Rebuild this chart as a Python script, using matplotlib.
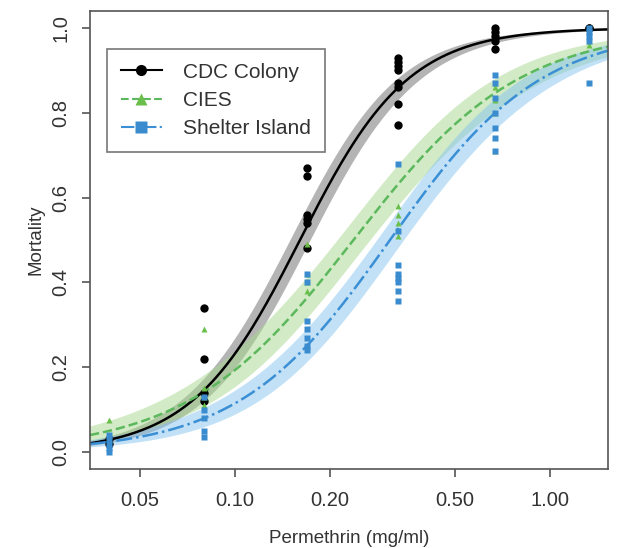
import numpy as np
import matplotlib
matplotlib.use('Agg')
import matplotlib.pyplot as plt
from matplotlib.ticker import FixedLocator, NullLocator

plt.rcParams['font.family'] = ['Liberation Sans', 'DejaVu Sans']

# dose groups (mg/ml)
doses = [0.04, 0.08, 0.17, 0.33, 0.67, 1.33]

# observed mortality per dose group
cdc_obs = [[0.03, 0.02],
           [0.34, 0.22, 0.14, 0.12],
           [0.67, 0.65, 0.56, 0.55, 0.54, 0.48],
           [0.93, 0.92, 0.91, 0.90, 0.87, 0.86, 0.82, 0.77],
           [1.00, 0.99, 0.98, 0.97, 0.95],
           [1.00, 1.00]]
cies_obs = [[0.075, 0.04, 0.03],
            [0.29, 0.15, 0.13, 0.11],
            [0.49, 0.42, 0.40, 0.38],
            [0.58, 0.56, 0.54, 0.51],
            [0.87, 0.86, 0.83, 0.80, 0.71],
            [0.97, 0.96]]
shelter_obs = [[0.04, 0.03, 0.02, 0.01, 0.0],
               [0.13, 0.10, 0.08, 0.05, 0.035],
               [0.42, 0.40, 0.31, 0.29, 0.27, 0.25, 0.24],
               [0.68, 0.52, 0.44, 0.42, 0.41, 0.40, 0.38, 0.355],
               [0.89, 0.87, 0.835, 0.80, 0.765, 0.74, 0.71],
               [1.00, 0.99, 0.98, 0.97, 0.87]]

# fitted logistic parameters: LD50, slope (per log10 dose), se terms
strains = ['CDC Colony', 'CIES', 'Shelter Island']
ld50 = [0.161, 0.238, 0.311]
slope = [5.8, 3.8, 4.15]
se0 = [0.095, 0.10, 0.09]
se1 = [0.17, 0.25, 0.22]

line_col = ['black', '#5cb85c', '#3b8fd4']
band_col = ['#8c8c8c', '#a6d88e', '#86c5ee']
band_alpha = [0.65, 0.5, 0.5]
point_col = ['black', '#6abf4b', '#3a8ccf']
markers = ['o', '^', 's']
styles = ['-', '--', '-.']
obs = [cdc_obs, cies_obs, shelter_obs]

fig = plt.figure(figsize=(6.17, 5.48), dpi=100)
ax = fig.add_axes([0.1459, 0.1442, 0.8395, 0.8358])

xmin, xmax = 0.0347, 1.53
grid = np.logspace(np.log10(xmin), np.log10(xmax), 300)
lg = np.log10(grid)

for i in range(3):
    eta = slope[i] * (lg - np.log10(ld50[i]))
    se = np.sqrt(se0[i] ** 2 + (se1[i] * (lg - np.log10(ld50[i]))) ** 2)
    lo = 1 / (1 + np.exp(-(eta - 1.96 * se)))
    hi = 1 / (1 + np.exp(-(eta + 1.96 * se)))
    ax.fill_between(grid, lo, hi, color=band_col[i], alpha=band_alpha[i], lw=0)

for i in range(3):
    eta = slope[i] * (lg - np.log10(ld50[i]))
    ax.plot(grid, 1 / (1 + np.exp(-eta)), color=line_col[i], ls=styles[i], lw=1.8)

handles = []
for i in range(3):
    xs, ys = [], []
    for d, vals in zip(doses, obs[i]):
        xs += [d] * len(vals)
        ys += vals
    ms = 6 if i == 0 else 5
    ax.plot(xs, ys, ls='none', marker=markers[i], color=point_col[i], ms=ms, mec='none')
    h, = ax.plot([], [], color=line_col[i], ls=styles[i], marker=markers[i],
                 mfc=point_col[i], mec='none', ms=8, lw=1.5)
    handles.append(h)

ax.set_xscale('log')
ax.set_xlim(xmin, xmax)
ax.set_ylim(-0.04, 1.04)
ax.xaxis.set_major_locator(FixedLocator([0.05, 0.1, 0.2, 0.5, 1.0]))
ax.xaxis.set_minor_locator(NullLocator())
ax.set_xticklabels(['0.05', '0.10', '0.20', '0.50', '1.00'])
ax.set_yticks([0.0, 0.2, 0.4, 0.6, 0.8, 1.0])
ax.set_yticklabels(['0.0', '0.2', '0.4', '0.6', '0.8', '1.0'], rotation=90, va='center')

for s in ax.spines.values():
    s.set_color('#555555')
    s.set_linewidth(1.2)
ax.tick_params(length=6, width=1.2, color='#555555', labelsize=14.5, labelcolor='#333333')
ax.tick_params(axis='x', pad=10)
ax.tick_params(axis='y', pad=8)

ax.set_xlabel('Permethrin (mg/ml)', fontsize=13.5, color='#333333', labelpad=14)
ax.set_ylabel('Mortality', fontsize=13.5, color='#333333', labelpad=5)

leg = ax.legend(handles, strains, loc='upper left', bbox_to_anchor=(0.033, 0.917),
                fontsize=15, frameon=True, fancybox=False, numpoints=1,
                handlelength=2.0, handletextpad=1.0, borderpad=0.65,
                labelspacing=0.45, borderaxespad=0)
leg.get_frame().set_edgecolor('#555555')
leg.get_frame().set_linewidth(1.2)
for t in leg.get_texts():
    t.set_color('#333333')

fig.savefig('out.png', dpi=100)
